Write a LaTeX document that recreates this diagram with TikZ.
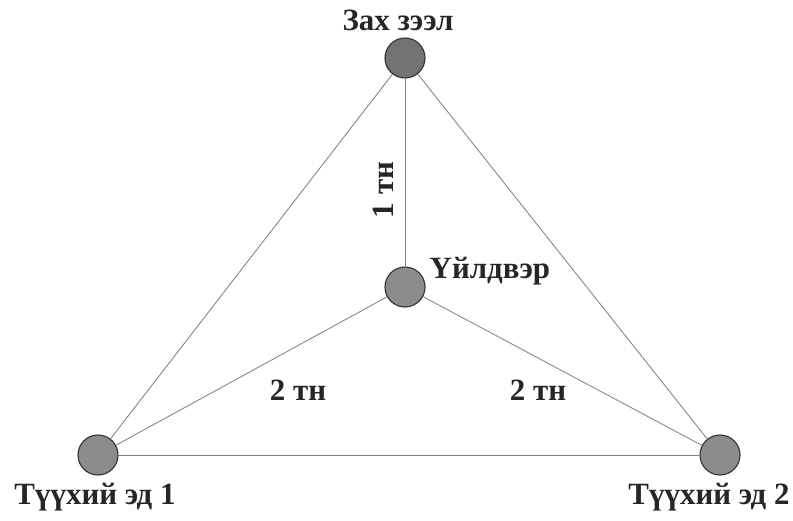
\documentclass[tikz,border=0pt]{standalone}
\usepackage{fontspec}
\setmainfont{Liberation Serif}
\usetikzlibrary{positioning}
\tikzset{
  pt/.style={circle,draw=black!80,line width=0.8pt,fill=gray!90,minimum size=1cm,inner sep=0pt},
  ptdark/.style={pt,fill=black!55},
  edge/.style={draw=gray,line width=0.6pt},
  lbl/.style={font=\bfseries\fontsize{22}{25}\selectfont,text=black!85,inner sep=1pt}
}
\begin{document}
\begin{tikzpicture}[x=0.025cm,y=-0.025cm]
\useasboundingbox (0,0) rectangle (793,520);

\node[ptdark] (market)  at (405,58)  {};
\node[pt]     (factory) at (405,287) {};
\node[pt]     (raw1)    at (98,455)  {};
\node[pt]     (raw2)    at (720,455) {};

\draw[edge] (market) -- (raw1);
\draw[edge] (market) -- (raw2);
\draw[edge] (raw1) -- (raw2);
\draw[edge] (market) -- (factory);
\draw[edge] (factory) -- (raw1);
\draw[edge] (factory) -- (raw2);

\node[lbl] (lmarket)  at (398,20)  {Зах зээл};
\node[lbl,anchor=west] (lfactory) at (428,271) {Үйлдвэр};
\node[lbl] (lraw1) at (95,497)  {Түүхий эд 1};
\node[lbl] (lraw2) at (709,497) {Түүхий эд 2};

\node[lbl,rotate=90] (t1) at (383,190) {1 тн};
\node[lbl] (t2) at (298,390) {2 тн};
\node[lbl] (t3) at (538,390) {2 тн};
\end{tikzpicture}
\end{document}
